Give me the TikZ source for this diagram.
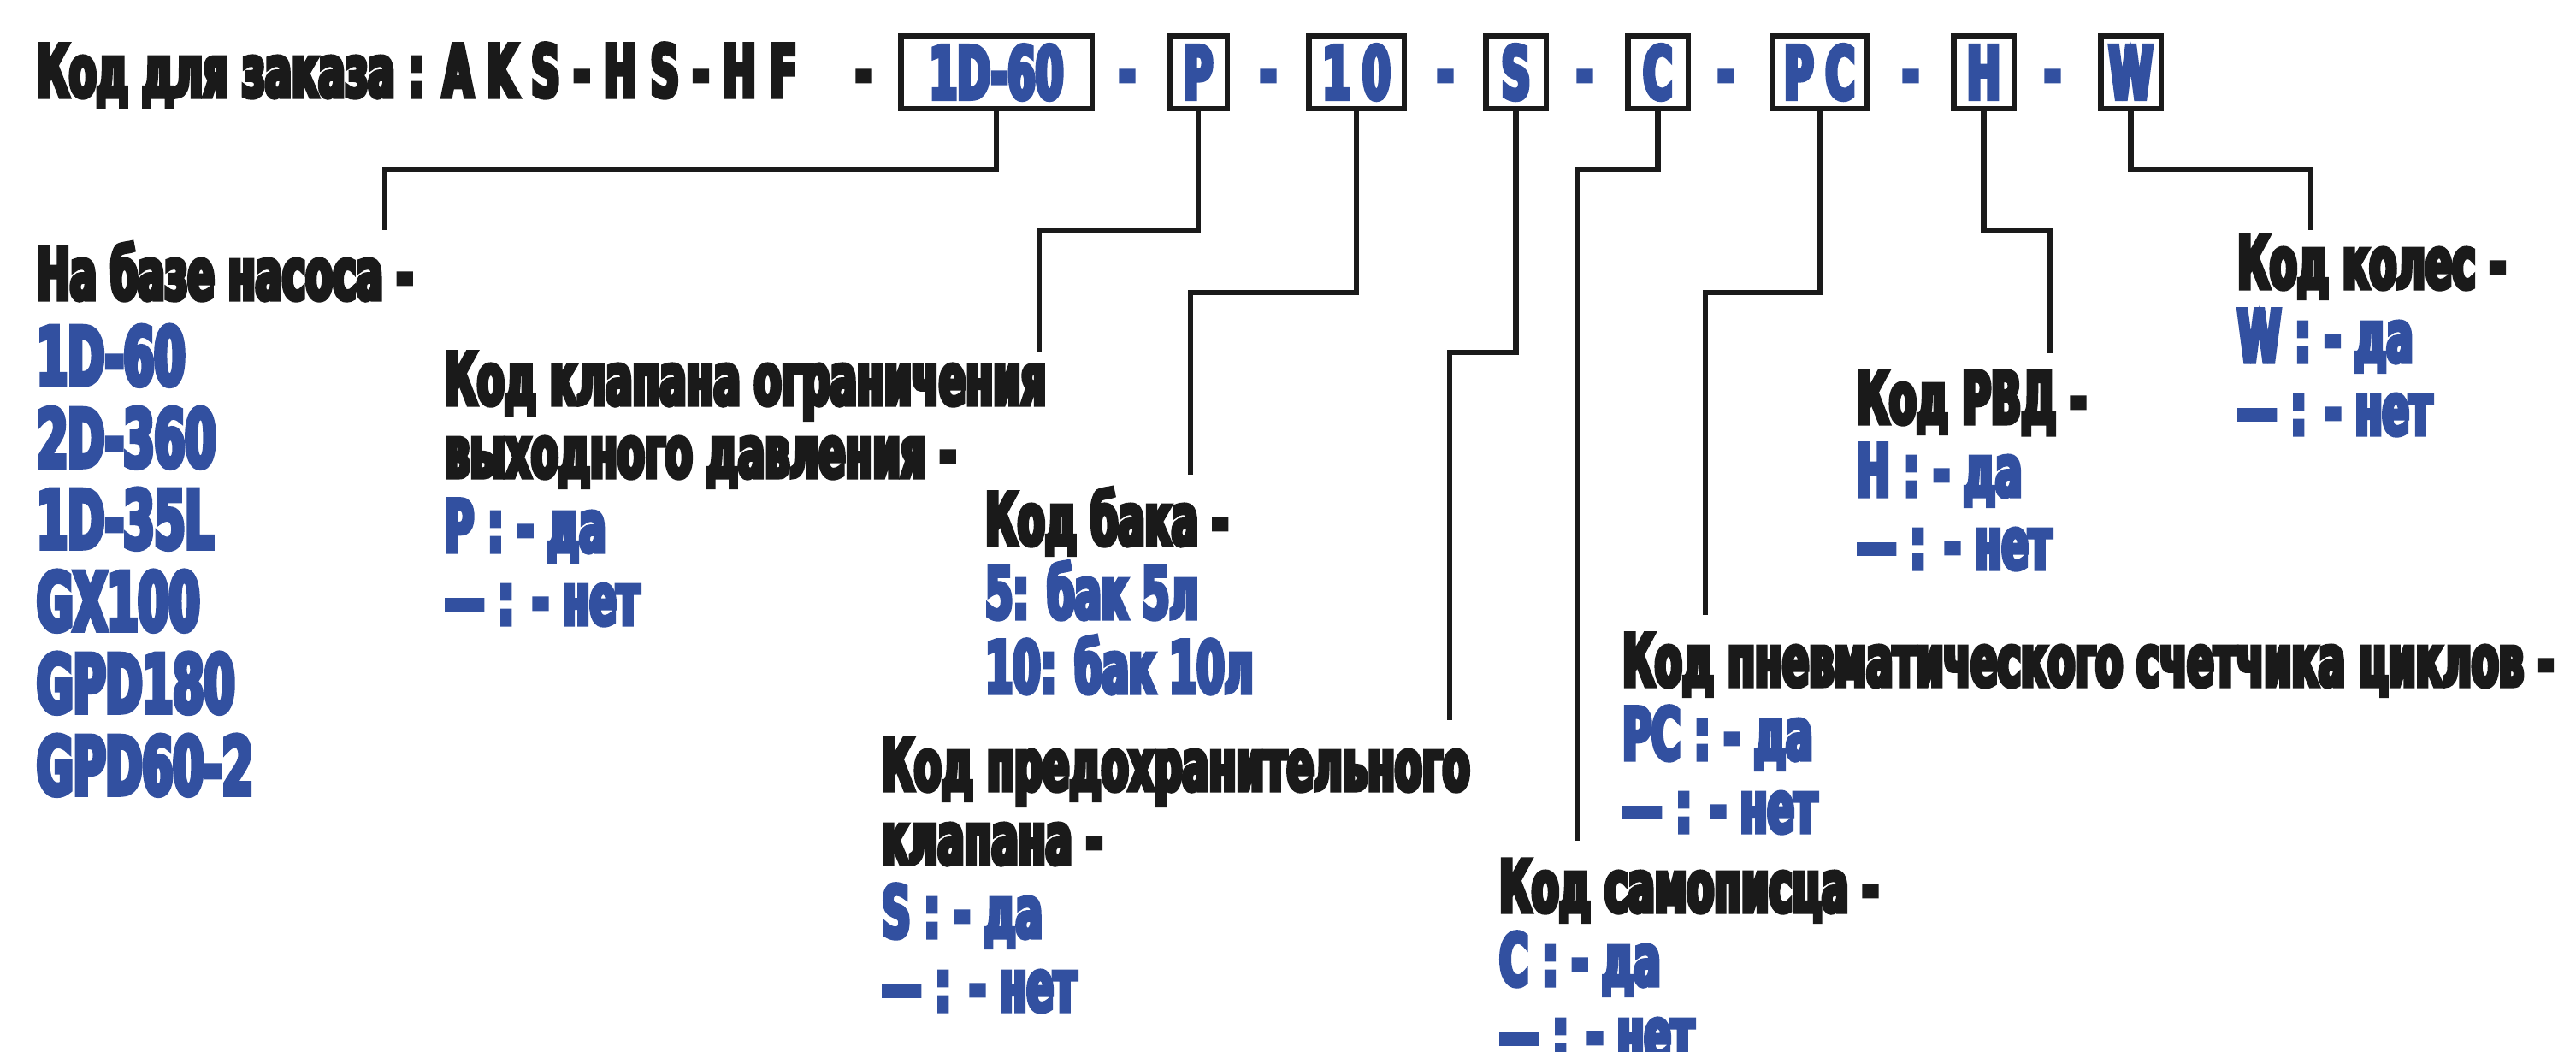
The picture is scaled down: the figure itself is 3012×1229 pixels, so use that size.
\documentclass[tikz,border=0pt]{standalone}
\usepackage{fontspec}
\newfontfamily\cf{DejaVu Sans}[FakeStretch=0.55,FakeBold=6]
\definecolor{ink}{RGB}{26,26,26}
\definecolor{blu}{RGB}{50,80,160}
\begin{document}
\begin{tikzpicture}[x=1pt,y=-1pt,
  lab/.style={anchor=base west, inner sep=0pt, text=ink, font=\cf\bfseries\fontsize{84}{86}\selectfont},
  opt/.style={lab, text=blu},
  pump/.style={lab, text=blu, font=\cf\bfseries\fontsize{94}{96}\selectfont},
  dsh/.style={lab, anchor=base, text=blu},
  codebox/.style={draw=ink, line width=6.5pt, inner sep=0pt, minimum height=84.5pt,
     text height=62pt, text depth=0pt, text=blu, font=\cf\bfseries\fontsize{85}{85}\selectfont},
  conn/.style={draw=ink, line width=6.5pt}]
\fill[white] (0,0) rectangle (3012,1229);
\useasboundingbox (0,0) rectangle (3012,1229);

% title
\node[lab] (title) at (43,113) {Код для заказа : A K S - H S - H F};
\node[lab, anchor=base] (tdash) at (1010,113) {-};

% code boxes
\node[codebox, minimum width=223.5pt] (b1) at (1165,84.5) {1D-60};
\node[codebox, minimum width=67.5pt]  (b2) at (1401,84.5) {P};
\node[codebox, minimum width=111.5pt] (b3) at (1586,84.5) {1\,0};
\node[codebox, minimum width=70.5pt]  (b4) at (1772.5,84.5) {S};
\node[codebox, minimum width=70.5pt]  (b5) at (1938.5,84.5) {C};
\node[codebox, minimum width=110.5pt] (b6) at (2127.5,84.5) {P\,C};
\node[codebox, minimum width=70.5pt]  (b7) at (2319.5,84.5) {H};
\node[codebox, minimum width=70.5pt]  (b8) at (2491.5,84.5) {W};

% dashes between boxes
\node[dsh] (d1) at (1318,113) {-};
\node[dsh] (d2) at (1483,113) {-};
\node[dsh] (d3) at (1690,113) {-};
\node[dsh] (d4) at (1853,113) {-};
\node[dsh] (d5) at (2018,113) {-};
\node[dsh] (d6) at (2234,113) {-};
\node[dsh] (d7) at (2400,113) {-};

% connector free ends
\coordinate (e1) at (450,269);
\coordinate (e2) at (1215,412);
\coordinate (e3) at (1392,555);
\coordinate (e4) at (1695,842);
\coordinate (e5) at (1845,983);
\coordinate (e6) at (1994,719);
\coordinate (e7) at (2397,413);
\coordinate (e8) at (2702,269);

\draw[conn] (b1.south) -- (b1.south |- 0,198) -| (e1);
\draw[conn] (b2.south) -- (b2.south |- 0,270) -| (e2);
\draw[conn] (b3.south) -- (b3.south |- 0,342) -| (e3);
\draw[conn] (b4.south) -- (b4.south |- 0,412) -| (e4);
\draw[conn] (b5.south) -- (b5.south |- 0,198) -| (e5);
\draw[conn] (b6.south) -- (b6.south |- 0,342) -| (e6);
\draw[conn] (b7.south) -- (b7.south |- 0,269) -| (e7);
\draw[conn] (b8.south) -- (b8.south |- 0,198) -| (e8);

% pump
\node[lab] (l1) at (43,350) {На базе насоса -};
\node[pump] (p1) at (43,450) {1D-60};
\node[pump] (p2) at (43,546) {2D-360};
\node[pump] (p3) at (43,641) {1D-35L};
\node[pump] (p4) at (43,737) {GX100};
\node[pump] (p5) at (43,833) {GPD180};
\node[pump] (p6) at (43,929) {GPD60-2};

% P
\node[lab] (l2a) at (520,473) {Код клапана ограничения};
\node[lab] (l2b) at (520,558) {выходного давления -};
\node[opt] (l2c) at (520,645) {P : - да};
\node[opt] (l2d) at (520,730) {— : - нет};

% tank
\node[lab] (l3a) at (1152,637) {Код бака -};
\node[opt] (l3b) at (1152,723) {5: бак 5л};
\node[opt] (l3c) at (1152,810) {10: бак 10л};

% S
\node[lab] (l4a) at (1031,924) {Код предохранительного};
\node[lab] (l4b) at (1031,1010) {клапана -};
\node[opt] (l4c) at (1031,1096) {S : - да};
\node[opt] (l4d) at (1031,1182) {— : - нет};

% C
\node[lab] (l5a) at (1753,1066) {Код самописца -};
\node[opt] (l5b) at (1753,1152) {C : - да};
\node[opt] (l5c) at (1753,1238) {— : - нет};

% PC
\node[lab] (l6a) at (1897,802) {Код пневматического счетчика циклов -};
\node[opt] (l6b) at (1897,888) {PC : - да};
\node[opt] (l6c) at (1897,973) {— : - нет};

% H
\node[lab] (l7a) at (2171,495) {Код РВД -};
\node[opt] (l7b) at (2171,580) {H : - да};
\node[opt] (l7c) at (2171,665) {— : - нет};

% W
\node[lab] (l8a) at (2616,337) {Код колес -};
\node[opt] (l8b) at (2616,423) {W : - да};
\node[opt] (l8c) at (2616,508) {— : - нет};
\end{tikzpicture}
\end{document}
